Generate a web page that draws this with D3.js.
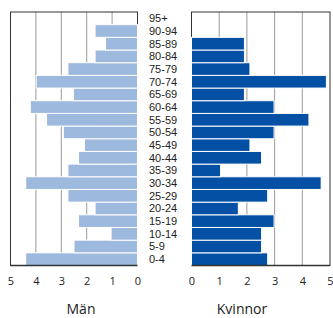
<!DOCTYPE html>
<html><head><meta charset="utf-8">
<script src="https://cdn.jsdelivr.net/npm/d3@7"></script>
<style>body{margin:0;background:#fff}svg{display:block}text{font-family:"Open Sans",sans-serif;fill:#222}</style>
</head><body><svg id="c" width="333" height="318"></svg>
<script>
const ages = ["0-4","5-9","10-14","15-19","20-24","25-29","30-34","35-39","40-44","45-49","50-54","55-59","60-64","65-69","70-74","75-79","80-84","85-89","90-94","95+"];
const men = [4.40,2.50,1.04,2.32,1.67,2.74,4.40,2.74,2.32,2.09,2.92,3.58,4.22,2.52,3.99,2.74,1.67,1.26,1.67,0];
const women = [2.75,2.53,2.53,2.98,1.69,2.75,4.68,1.05,2.53,2.11,2.98,4.24,2.98,1.91,4.87,2.11,1.91,1.91,0,0];
const ticks = [0,1,2,3,4,5];
const titles = ["Män","Kvinnor"];

(function(){
const svg = d3.select("#c");
const plotTop = 12, plotBottom = 265.5;
const y = d3.scaleBand().domain(ages.slice().reverse()).range([plotTop,plotBottom]).padding(0);
const xL = d3.scaleLinear().domain([5,0]).range([10.5,137.5]);
const xR = d3.scaleLinear().domain([0,5]).range([191.5,330]);
const light = "#9db9dd", dark = "#0350a4";

function panel(x, data, color, left, title){
  const g = svg.append("g");
  g.selectAll("line.grid").data([1,2,3,4]).join("line")
    .attr("x1",d=>x(d)).attr("x2",d=>x(d)).attr("y1",plotTop).attr("y2",plotBottom)
    .attr("stroke","#9a9a9a").attr("stroke-width",1);
  const [a,b] = x.range();
  const x0 = Math.min(a,b), x1 = Math.max(a,b);
  g.append("rect").attr("x",x0).attr("y",plotTop).attr("width",x1-x0).attr("height",plotBottom-plotTop)
    .attr("fill","none").attr("stroke","#333").attr("stroke-width",1);
  g.selectAll("rect.bar").data(ages.map((k,i)=>({k,v:data[i]})).filter(d=>d.v>0)).join("rect")
    .attr("x",d=>left? x(d.v) : x(0))
    .attr("width",d=>Math.abs(x(d.v)-x(0)))
    .attr("y",d=>y(d.k)).attr("height",y.bandwidth())
    .attr("fill",color).attr("stroke","#fff").attr("stroke-width",1);
  g.append("line").attr("x1",x0).attr("x2",x1).attr("y1",plotBottom).attr("y2",plotBottom)
    .attr("stroke","#333").attr("stroke-width",1.5);
  const ax = d3.axisBottom(x).tickValues(ticks).tickSize(0).tickPadding(0).tickFormat(d3.format("d"));
  const ag = g.append("g").attr("transform",`translate(0,${plotBottom})`).call(ax);
  ag.select(".domain").remove();
  ag.selectAll("text").attr("y",19.5).attr("dy",0).style("font-size","11px").style("font-family","'Open Sans',sans-serif").attr("fill","#222");
  g.append("text").attr("x",title.x).attr("y",314).attr("text-anchor","middle").style("font-size","14px").text(title.t);
}
panel(xL, men, light, true, {x:81, t:titles[0]});
panel(xR, women, dark, false, {x:242, t:titles[1]});

svg.append("g").selectAll("text").data(ages).join("text")
  .attr("x",149).attr("y",d=>y(d)+y.bandwidth()/2).attr("dy","0.36em")
  .style("font-family","'Liberation Sans',sans-serif")
  .style("font-size","11px").text(d=>d);
})();
</script></body></html>
